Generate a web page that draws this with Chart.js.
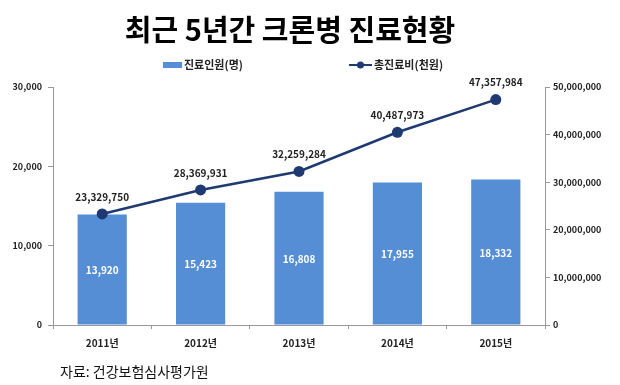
<!DOCTYPE html>
<html><head><meta charset="utf-8">
<script src="https://cdn.jsdelivr.net/npm/chart.js@4"></script>
<style>html,body{margin:0;padding:0;background:#fff}#wrap{width:620px;height:385px;position:relative}</style>
</head><body><div id="wrap"><canvas id="c" width="620" height="385"></canvas></div>
<script>
const categories = ['2011년','2012년','2013년','2014년','2015년'];
const patients = [13920, 15423, 16808, 17955, 18332];
const costs = [23329750, 28369931, 32259284, 40487973, 47357984];
const leftTicks = [0, 10000, 20000, 30000];
const rightTicks = [0, 10000000, 20000000, 30000000, 40000000, 50000000];
const titleText = '최근 5년간 크론병 진료현황';
const seriesNames = ['진료인원(명)', '총진료비(천원)'];
const sourceText = '자료: 건강보험심사평가원';

const FONT = '"Noto Sans CJK KR", "Noto Sans", sans-serif';
const BAR = '#558ed5';
const LINE = '#1f3a72';
const fmt = v => v.toLocaleString('en-US');

const extras = {
  id: 'extras',
  afterDraw(chart) {
    const ctx = chart.ctx;
    ctx.save();
    // title
    ctx.fillStyle = '#000';
    ctx.font = 'bold 29px ' + FONT;
    ctx.textAlign = 'center'; ctx.textBaseline = 'middle';
    ctx.fillText(titleText, 290, 30);
    // legend
    ctx.font = 'bold 11px ' + FONT;
    ctx.textAlign = 'left';
    ctx.fillStyle = BAR;
    ctx.fillRect(163, 62, 19, 6);
    ctx.fillStyle = '#222';
    ctx.fillText(seriesNames[0], 184, 65);
    ctx.strokeStyle = LINE; ctx.lineWidth = 2;
    ctx.beginPath(); ctx.moveTo(349, 65); ctx.lineTo(372, 65); ctx.stroke();
    ctx.fillStyle = LINE;
    ctx.beginPath(); ctx.arc(360.5, 65, 3.5, 0, Math.PI*2); ctx.fill();
    ctx.fillStyle = '#222';
    ctx.fillText(seriesNames[1], 374, 65);
    // source
    ctx.font = '14px ' + FONT;
    ctx.fillStyle = '#111';
    ctx.fillText(sourceText, 60, 372);
    // bar labels
    ctx.textAlign = 'center';
    ctx.font = 'bold 10px ' + FONT;
    ctx.fillStyle = '#fff';
    chart.getDatasetMeta(1).data.forEach((el, i) => {
      const p = el.getProps(['x','y','base'], true);
      ctx.fillText(fmt(patients[i]), p.x, (p.y + p.base) / 2 + 1);
    });
    // line labels
    ctx.fillStyle = '#222';
    chart.getDatasetMeta(0).data.forEach((el, i) => {
      const p = el.getProps(['x','y'], true);
      ctx.fillText(fmt(costs[i]), p.x, p.y - 17);
    });
    ctx.restore();
  }
};

new Chart(document.getElementById('c'), {
  data: {
    labels: categories,
    datasets: [
      { type: 'line', label: seriesNames[1], data: costs, yAxisID: 'y1', borderColor: LINE, backgroundColor: LINE,
        borderWidth: 2.5, pointRadius: 5.5, pointHoverRadius: 5.5, pointBorderWidth: 0, pointBackgroundColor: LINE, tension: 0, order: 0 },
      { type: 'bar', label: seriesNames[0], data: patients, yAxisID: 'y', backgroundColor: BAR,
        categoryPercentage: 1.0, barPercentage: 0.5, order: 1 }
    ]
  },
  options: {
    responsive: false, animation: false,
    layout: { padding: { top: 87, left: 0, right: 0, bottom: 0 } },
    plugins: { legend: { display: false }, title: { display: false }, tooltip: { enabled: false } },
    scales: {
      x: {
        grid: { offset: true, drawOnChartArea: false, drawTicks: true, tickLength: 4, color: '#999' },
        border: { color: '#999', width: 1 },
        ticks: { font: { family: FONT, size: 10, weight: 'bold' }, color: '#222', padding: 8 },
        afterFit: s => { s.height = 60; }
      },
      y: {
        position: 'left', min: 0, max: 30000,
        afterBuildTicks: s => { s.ticks = leftTicks.map(v => ({ value: v })); },
        grid: { drawOnChartArea: false, drawTicks: true, tickLength: 5, color: '#999' },
        border: { color: '#999', width: 1 },
        ticks: { font: { family: FONT, size: 9, weight: 'bold' }, color: '#222', padding: 6, callback: v => fmt(v) },
        afterFit: s => { s.width = 53; }
      },
      y1: {
        position: 'right', min: 0, max: 50000000,
        afterBuildTicks: s => { s.ticks = rightTicks.map(v => ({ value: v })); },
        grid: { drawOnChartArea: false, drawTicks: true, tickLength: 5, color: '#999' },
        border: { color: '#999', width: 1 },
        ticks: { font: { family: FONT, size: 9, weight: 'bold' }, color: '#222', padding: 3, callback: v => fmt(v) },
        afterFit: s => { s.width = 75; }
      }
    }
  },
  plugins: [extras]
});
</script></body></html>
